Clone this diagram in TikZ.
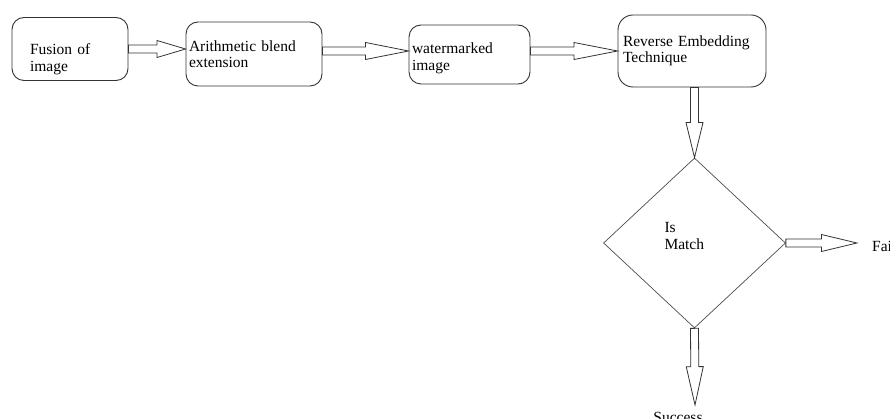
\documentclass[tikz,border=0pt]{standalone}
\usepackage{fontspec}
\setmainfont{Liberation Serif}
\usetikzlibrary{calc,shapes.geometric}
\newcommand{\flowfont}{\fontsize{15.5}{16.5}\selectfont}
\tikzset{
  procbox/.style={draw=black!80, line width=0.9pt, rounded corners=12pt, align=left,
                  inner ysep=0pt, font=\flowfont},
  decision/.style={diamond, draw=black!70, line width=0.7pt, inner sep=0pt,
                   minimum width=182pt, minimum height=170pt, align=left,
                   text width=60pt, font=\flowfont},
  outcome/.style={inner sep=0pt, font=\flowfont},
  blockarrow/.style={draw=black!80, line width=0.8pt, to path={
    ($(\tikztostart)!4pt!90:(\tikztotarget)$)
    -- ($(\tikztostart)!0.5!(\tikztotarget)!4pt!90:(\tikztotarget)$)
    -- ($(\tikztostart)!0.5!(\tikztotarget)!8.5pt!90:(\tikztotarget)$)
    -- (\tikztotarget)
    -- ($(\tikztostart)!0.5!(\tikztotarget)!8.5pt!-90:(\tikztotarget)$)
    -- ($(\tikztostart)!0.5!(\tikztotarget)!4pt!-90:(\tikztotarget)$)
    -- ($(\tikztostart)!4pt!-90:(\tikztotarget)$) -- cycle}}
}

\begin{document}
\begin{tikzpicture}[x=1pt, y=-1pt]
\useasboundingbox (0,0) rectangle (890,419);
\clip (0,0) rectangle (890,419);
% process chain
\node[procbox, text width=80pt, inner xsep=18pt, minimum height=63pt] (fuse) at (70,49)
  {\rule{0pt}{31pt}Fusion of\\image};
\node[procbox, text width=130pt, inner xsep=3pt, minimum height=64pt] (blend) at (254,54)
  {Arithmetic blend\\extension};
\node[procbox, text width=115pt, inner xsep=3pt, minimum height=59pt] (wmark) at (469.5,54.5)
  {\rule{0pt}{18pt}watermarked\\image};
\node[procbox, text width=138pt, inner xsep=5pt, minimum height=72pt, rounded corners=15pt] (reverse) at (692,51)
  {Reverse Embedding\\Technique};
% decision and outcomes
\node[decision] (match) at (694.5,243) {Is\\Match\rule[-14pt]{0pt}{0pt}};
\node[outcome, anchor=base west] (fail) at (872,252) {Fail};
\node[outcome, anchor=base] (success) at (678,422) {Success};
\coordinate (failend) at (857,243);
\coordinate (succend) at (695,405);
\coordinate (revout) at (reverse.south -| match.north);

\draw[blockarrow] (fuse.east) to (fuse.east -| blend.west);
\draw[blockarrow] (blend.east |- reverse.west) to (wmark.west |- reverse.west);
\draw[blockarrow] (wmark.east |- reverse.west) to (reverse.west);
\draw[blockarrow] (revout) to (match.north);
\draw[blockarrow] (match.east) to (failend);
\draw[blockarrow] (match.south) to (succend);
\end{tikzpicture}
\end{document}
